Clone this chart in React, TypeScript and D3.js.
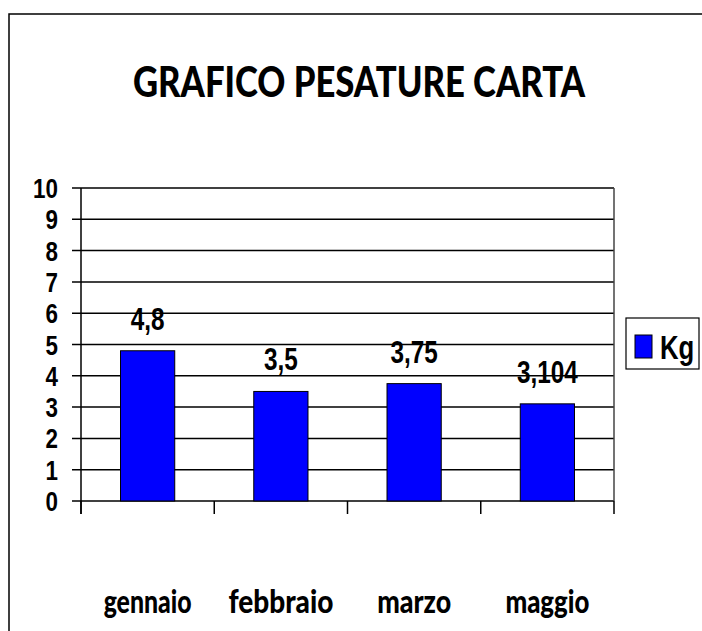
import React from "react";
import * as d3 from "d3";

const categories = ["gennaio", "febbraio", "marzo", "maggio"];
const values = [4.8, 3.5, 3.75, 3.104];
const valueLabels = ["4,8", "3,5", "3,75", "3,104"];
const categoryWidths = [88, 105, 74, 84];
const yTicks = [0, 1, 2, 3, 4, 5, 6, 7, 8, 9, 10];
const seriesName = "Kg";
const title = "GRAFICO PESATURE CARTA";

const W = 702;
const H = 631;
const plot = { left: 81, right: 614, top: 188, bottom: 501 };
const comic = "'Comic Sans MS', Lato, 'DejaVu Sans', sans-serif";
const arial = "'Liberation Sans', Arial, sans-serif";

export default function App() {
  const x = d3.scaleBand<string>().domain(categories).range([plot.left, plot.right]).padding(0);
  const y = d3.scaleLinear().domain([0, 10]).range([plot.bottom, plot.top]);
  const step = x.step();
  const barW = step * 0.407;
  const boundaries = d3.range(categories.length + 1).map((i) => plot.left + i * step);

  return (
    <svg width={W} height={H} style={{ position: "fixed", left: 0, top: 0, background: "#fff" }}>
      <rect x={0} y={0} width={W} height={H} fill="#fff" />
      <rect x={9} y={14} width={W + 20} height={H + 20} fill="none" stroke="#000" strokeWidth={1.5} />
      <text
        x={359}
        y={97}
        textAnchor="middle"
        fontFamily={comic}
        fontWeight="900"
        fontSize={42}
        textLength={452}
        lengthAdjust="spacingAndGlyphs"
      >
        {title}
      </text>
      {yTicks.map((t) => (
        <line key={"g" + t} x1={72} x2={plot.right} y1={y(t)} y2={y(t)} stroke="#000" strokeWidth={1.5} />
      ))}
      <line x1={plot.right} x2={plot.right} y1={plot.top} y2={plot.bottom} stroke="#444" strokeWidth={1.5} />
      <line x1={plot.left} x2={plot.left} y1={plot.top} y2={plot.bottom + 13} stroke="#000" strokeWidth={1.5} />
      {boundaries.map((b, i) => (
        <line key={"t" + i} x1={b} x2={b} y1={plot.bottom} y2={plot.bottom + 13} stroke="#000" strokeWidth={1.5} />
      ))}
      {yTicks.map((t) => (
        <text
          key={"yl" + t}
          transform={`translate(58, ${y(t) + 10}) scale(0.8, 1)`}
          textAnchor="end"
          fontFamily={arial}
          fontWeight="bold"
          fontSize={28}
        >
          {t}
        </text>
      ))}
      {categories.map((c, i) => {
        const bx = (x(c) as number) + (step - barW) / 2;
        return (
          <rect
            key={"b" + c}
            x={bx}
            y={y(values[i])}
            width={barW}
            height={y(0) - y(values[i])}
            fill="#0000FF"
            stroke="#000"
            strokeWidth={1}
          />
        );
      })}
      {categories.map((c, i) => (
        <text
          key={"v" + c}
          transform={`translate(${(x(c) as number) + step / 2}, ${y(values[i]) - 21}) scale(0.76, 1)`}
          textAnchor="middle"
          fontFamily={arial}
          fontWeight="bold"
          fontSize={32}
        >
          {valueLabels[i]}
        </text>
      ))}
      {categories.map((c, i) => (
        <text
          key={"c" + c}
          x={(x(c) as number) + step / 2}
          y={613}
          textAnchor="middle"
          fontFamily={comic}
          fontWeight="900"
          fontSize={33}
          textLength={categoryWidths[i]}
          lengthAdjust="spacingAndGlyphs"
        >
          {c}
        </text>
      ))}
      <rect x={626} y={318} width={73} height={51} fill="#fff" stroke="#000" strokeWidth={1.2} />
      <rect x={635} y={335} width={17} height={23} fill="#0000FF" stroke="#000" strokeWidth={1} />
      <text
        transform="translate(660, 359) scale(0.78, 1)"
        fontFamily={arial}
        fontWeight="bold"
        fontSize={33}
      >
        {seriesName}
      </text>
    </svg>
  );
}
